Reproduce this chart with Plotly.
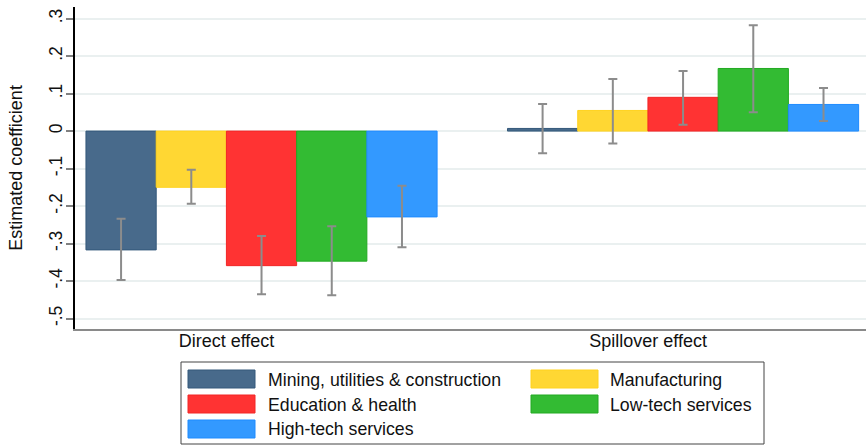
import plotly.graph_objects as go

# ---- data ----
effects = ["Direct effect", "Spillover effect"]
sectors = ["Mining, utilities & construction", "Manufacturing",
           "Education & health", "Low-tech services", "High-tech services"]
coef_direct = [-0.317, -0.150, -0.359, -0.347, -0.229]
coef_spill = [0.007, 0.055, 0.090, 0.167, 0.071]
ci_low_direct = [-0.397, -0.194, -0.435, -0.438, -0.310]
ci_high_direct = [-0.234, -0.103, -0.280, -0.254, -0.146]
ci_low_spill = [-0.059, -0.033, 0.017, 0.050, 0.027]
ci_high_spill = [0.072, 0.139, 0.160, 0.282, 0.115]
y_tick_vals = [-0.5, -0.4, -0.3, -0.2, -0.1, 0, 0.1, 0.2, 0.3]
y_tick_text = ["-.5", "-.4", "-.3", "-.2", "-.1", "0", ".1", ".2", ".3"]

# ---- style ----
fills = ["#486a8b", "#ffd733", "#ff3333", "#33bb33", "#3399ff"]
edges = ["#34587a", "#ffd21f", "#f22626", "#22aa22", "#1f8bff"]
FONT = "Liberation Sans, Arial, sans-serif"
W, H = 866, 445
ML, MR, MT, MB = 75, 0, 7, 116

fig = go.Figure()
for i, name in enumerate(sectors):
    vals = [coef_direct[i], coef_spill[i]]
    hi = [ci_high_direct[i], ci_high_spill[i]]
    lo = [ci_low_direct[i], ci_low_spill[i]]
    fig.add_trace(go.Bar(
        x=effects, y=vals, name=name,
        marker=dict(color=fills[i], line=dict(color=edges[i], width=1)),
        error_y=dict(type="data", symmetric=False,
                     array=[h - v for h, v in zip(hi, vals)],
                     arrayminus=[v - l for l, v in zip(lo, vals)],
                     color="#8c8c8c", thickness=2, width=4.5),
        showlegend=False,
    ))

# ---- custom legend (large swatches like the original) ----
pw = W - ML - MR
ph = H - MT - MB
def px_x(x):
    return (x - ML) / pw
def px_y(y):
    return (H - MB - y) / ph

shapes = [dict(type="rect", xref="paper", yref="paper",
               x0=px_x(181), x1=px_x(764), y0=px_y(362), y1=px_y(444),
               line=dict(color="#444444", width=1), fillcolor="white")]
annotations = []
col_sw = [188, 531]
col_tx = [266, 608]
for i, name in enumerate(sectors):
    r, c = divmod(i, 2)
    top = 370 + 25 * r
    shapes.append(dict(type="rect", xref="paper", yref="paper",
                       x0=px_x(col_sw[c]), x1=px_x(col_sw[c] + 67),
                       y0=px_y(top), y1=px_y(top + 18),
                       line=dict(color=edges[i], width=1), fillcolor=fills[i]))
    annotations.append(dict(xref="paper", yref="paper", x=px_x(col_tx[c]),
                            y=px_y(top + 9.5), text=name, showarrow=False,
                            xanchor="left", yanchor="middle",
                            font=dict(family=FONT, size=17.7, color="#111111")))

fig.update_layout(
    width=W, height=H,
    margin=dict(l=ML, r=MR, t=MT, b=MB),
    paper_bgcolor="white", plot_bgcolor="white",
    barmode="group", bargap=0.167, bargroupgap=0,
    font=dict(family=FONT, size=18, color="#111111"),
    shapes=shapes, annotations=annotations,
    xaxis=dict(type="category", range=[-0.4425, 1.434],
               showline=True, linecolor="#8a8a8a", linewidth=2,
               ticks="", showgrid=False, ticklabelshift=-35,
               ticklabelstandoff=-6, tickfont=dict(size=18)),
    yaxis=dict(range=[-0.528, 0.331], tickvals=y_tick_vals, ticktext=y_tick_text,
               tickangle=-90, ticks="outside", ticklen=7, tickwidth=2,
               tickcolor="#808080", showline=True, linecolor="black",
               linewidth=1.5, showgrid=True, gridcolor="#eaf0f0", gridwidth=1.5,
               zeroline=False, automargin=False, ticklabelstandoff=-3,
               title=dict(text="Estimated coefficient", standoff=19,
                          font=dict(size=18)),
               tickfont=dict(size=17.5)),
)

fig.write_html("out.html", config={"displayModeBar": False},
               post_script="document.body.style.margin='0';document.body.style.overflow='hidden';")
